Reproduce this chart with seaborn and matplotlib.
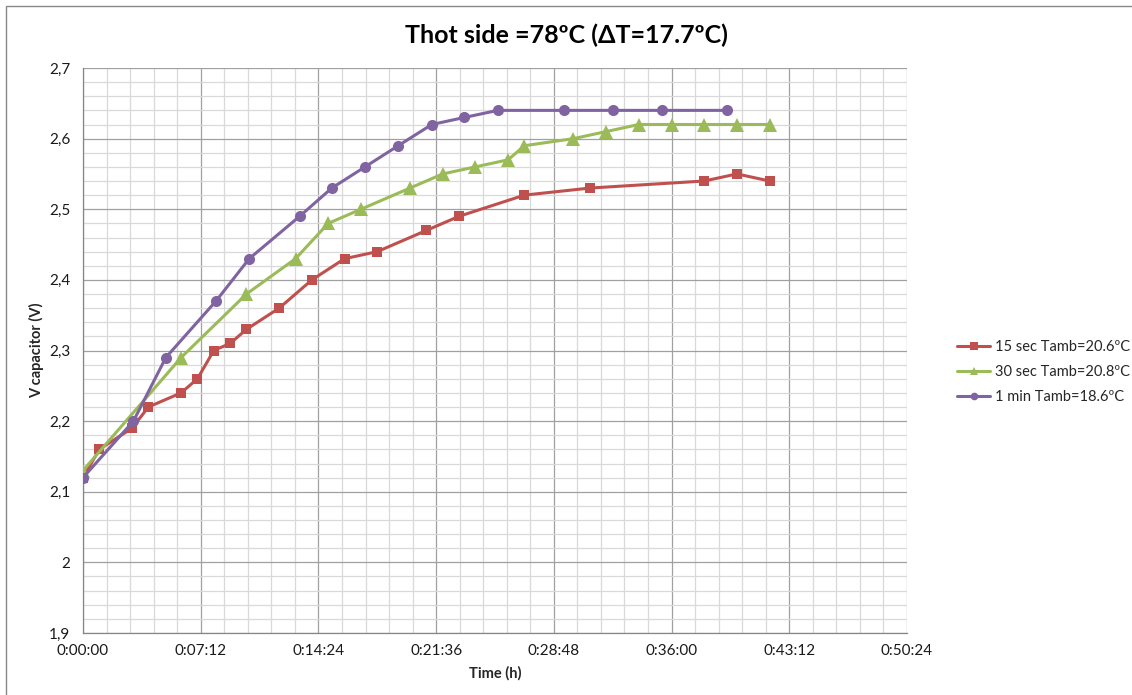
import matplotlib
matplotlib.use("Agg")
import matplotlib.pyplot as plt
from matplotlib.ticker import MultipleLocator, FuncFormatter
from matplotlib.patches import Rectangle
import seaborn as sns
import pandas as pd

# Sampling times (seconds) and capacitor voltages for each run
t_15s = [0, 60, 180, 240, 360, 420, 480, 540, 600, 720, 840, 960, 1080, 1260,
         1380, 1620, 1860, 2280, 2400, 2520]
v_15s = [2.12, 2.16, 2.19, 2.22, 2.24, 2.26, 2.30, 2.31, 2.33, 2.36, 2.40, 2.43,
         2.44, 2.47, 2.49, 2.52, 2.53, 2.54, 2.55, 2.54]

t_30s = [0, 360, 600, 780, 900, 1020, 1200, 1320, 1440, 1560, 1620, 1800, 1920,
         2040, 2160, 2280, 2400, 2520]
v_30s = [2.13, 2.29, 2.38, 2.43, 2.48, 2.50, 2.53, 2.55, 2.56, 2.57, 2.59, 2.60,
         2.61, 2.62, 2.62, 2.62, 2.62, 2.62]

t_1min = [0, 185, 304, 488, 610, 795, 913, 1035, 1157, 1280, 1400, 1522, 1764,
          1944, 2124, 2364]
v_1min = [2.12, 2.20, 2.29, 2.37, 2.43, 2.49, 2.53, 2.56, 2.59, 2.62, 2.63, 2.64,
          2.64, 2.64, 2.64, 2.64]

labels = ["15 sec Tamb=20.6ºC", "30 sec Tamb=20.8ºC", "1 min Tamb=18.6ºC"]
colors = ["#C0504D", "#9BBB59", "#8064A2"]
markers = ["s", "^", "o"]
msizes = [6.5, 9.5, 8]

title = "Thot side =78ºC (ΔT=17.7ºC)"
xlabel = "Time (h)"
ylabel = "V capacitor (V)"

sns.set_style("white")
plt.rcParams["font.family"] = ["Lato", "DejaVu Sans"]

fig = plt.figure(figsize=(11.32, 6.95), dpi=100)
ax = fig.add_axes([83 / 1132, 1 - 633 / 695, (907 - 83) / 1132, (633 - 68) / 695])

series = [(t_15s, v_15s), (t_30s, v_30s), (t_1min, v_1min)]
for (tt, vv), lab, col, mk, ms in zip(series, labels, colors, markers, msizes):
    df = pd.DataFrame({"t": tt, "v": vv})
    sns.lineplot(data=df, x="t", y="v", ax=ax, color=col, marker=mk,
                 markersize=ms, markeredgewidth=0, linewidth=2.2,
                 sort=False, estimator=None, label=lab, zorder=3)

ax.set_xlim(0, 3024)
ax.set_ylim(1.9, 2.7)
ax.xaxis.set_major_locator(MultipleLocator(432))
ax.xaxis.set_minor_locator(MultipleLocator(86.4))
ax.yaxis.set_major_locator(MultipleLocator(0.1))
ax.yaxis.set_minor_locator(MultipleLocator(0.02))


def fmt_time(s, _pos):
    s = int(round(s))
    return f"{s // 3600}:{(s % 3600) // 60:02d}:{s % 60:02d}"


def fmt_volt(v, _pos):
    return f"{round(v, 2):g}".replace(".", ",")


ax.xaxis.set_major_formatter(FuncFormatter(fmt_time))
ax.yaxis.set_major_formatter(FuncFormatter(fmt_volt))

ax.grid(which="major", color="#A0A0A0", linewidth=0.9, zorder=0)
ax.grid(which="minor", color="#D9D9D9", linewidth=0.9, zorder=0)
ax.set_axisbelow(True)

for side in ("top", "right"):
    ax.spines[side].set_visible(False)
for side in ("left", "bottom"):
    ax.spines[side].set_color("#868686")
    ax.spines[side].set_linewidth(0.9)

ax.tick_params(axis="both", which="major", direction="out", length=5,
               width=0.9, color="#868686", labelsize=11, labelcolor="#1a1a1a")
ax.tick_params(axis="both", which="minor", length=0)
ax.tick_params(axis="x", pad=3)
ax.tick_params(axis="y", pad=4)

ax.set_xlabel(xlabel, fontsize=10.5, fontweight="bold", labelpad=6)
ax.set_ylabel(ylabel, fontsize=10.5, fontweight="bold", labelpad=4)

fig.text(0.5, 1 - 35 / 695, title, ha="center", va="center",
         fontsize=18, fontweight="bold", color="#000000")

leg = ax.legend(loc="center left", bbox_to_anchor=(951 / 1132, 1 - 372 / 695),
                bbox_transform=fig.transFigure, frameon=False, fontsize=10.5,
                handlelength=2.3, labelspacing=0.75, handletextpad=0.35,
                borderaxespad=0)
for h in leg.legend_handles:
    h.set_markersize(5.5)

fig.patches.append(Rectangle((6 / 1132, -0.1), 1.2, 1 - 6 / 695 + 0.1,
                             transform=fig.transFigure, fill=False,
                             edgecolor="#888888", linewidth=1.0))

fig.savefig("out.png", dpi=100)
